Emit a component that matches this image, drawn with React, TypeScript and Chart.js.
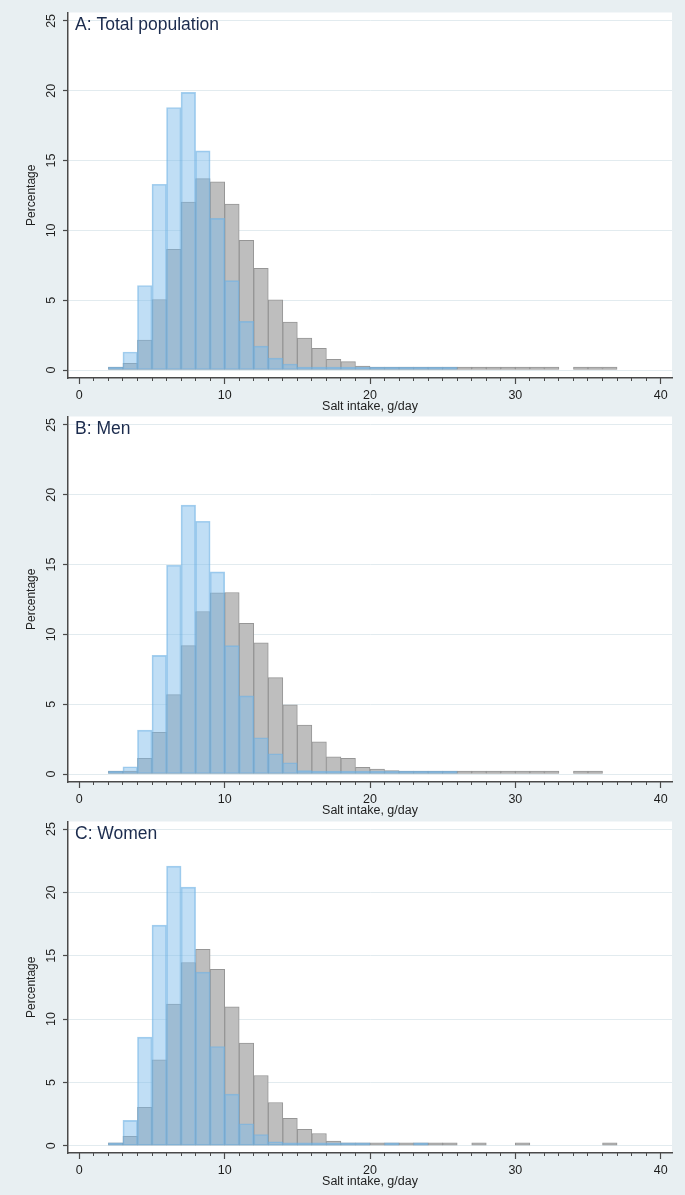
import React, { useEffect, useRef } from 'react';
import { Chart, registerables } from 'chart.js';

Chart.register(...registerables);

// ---------- data ----------
const binLower = [2, 3, 4, 5, 6, 7, 8, 9, 10, 11, 12, 13, 14, 15, 16, 17, 18, 19, 20, 21, 22, 23, 24, 25, 26, 27, 28, 29, 30, 31, 32, 33, 34, 35, 36];

const yTicks = [0, 5, 10, 15, 20, 25];
const xMajorTicks = [0, 10, 20, 30, 40];
const xMinorTicks = [0, 1, 2, 3, 4, 5, 6, 7, 8, 9, 10, 11, 12, 13, 14, 15, 16, 17, 18, 19, 20, 21, 22, 23, 24, 25, 26, 27, 28, 29, 30, 31, 32, 33, 34, 35, 36, 37, 38, 39, 40];

const xTitle = 'Salt intake, g/day';
const yTitle = 'Percentage';
const panelTitles = ['A: Total population', 'B: Men', 'C: Women'];

// bins 2..36 (lower edges)
const totalGray = [0.05, 0.48, 2.14, 5.05, 8.64, 12.02, 13.71, 13.48, 11.88, 9.29, 7.29, 5.02, 3.43, 2.28, 1.56, 0.76, 0.6, 0.29, 0.21, 0.12, 0.09, 0.07, 0.05, 0.04, 0.03, 0.03, 0.02, 0.02, 0.02, 0.02, 0.02, null, 0.02, 0.02, 0.02];
const totalBlue = [0.05, 1.29, 6.05, 13.3, 18.8, 19.88, 15.69, 10.86, 6.4, 3.48, 1.71, 0.85, 0.43, 0.15, 0.1, 0.08, 0.06, 0.05, 0.04, 0.04, 0.03, 0.03, 0.02, 0.02, null, null, null, null, null, null, null, null, null, null, null];

const menGray = [0.05, 0.12, 1.12, 2.98, 5.69, 9.19, 11.64, 12.98, 13.0, 10.79, 9.4, 6.9, 4.95, 3.5, 2.31, 1.24, 1.12, 0.48, 0.36, 0.24, 0.14, 0.1, 0.08, 0.06, 0.05, 0.04, 0.04, 0.03, 0.03, 0.03, 0.03, null, 0.03, 0.03, null];
const menBlue = [0.07, 0.52, 3.14, 8.5, 14.95, 19.26, 18.1, 14.48, 9.19, 5.6, 2.6, 1.45, 0.81, 0.24, 0.15, 0.1, 0.08, 0.06, 0.05, 0.04, 0.04, 0.03, 0.03, 0.02, null, null, null, null, null, null, null, null, null, null, null];

const womenGray = [0.05, 0.74, 3.03, 6.79, 11.18, 14.47, 15.5, 13.92, 10.97, 8.1, 5.55, 3.42, 2.16, 1.29, 0.97, 0.37, 0.18, 0.1, 0.07, 0.05, 0.04, 0.04, 0.03, 0.03, null, 0.03, null, null, 0.03, null, null, null, null, null, 0.03];
const womenBlue = [0.05, 2.0, 8.58, 17.42, 22.08, 20.42, 13.71, 7.84, 4.08, 1.74, 0.89, 0.32, 0.1, 0.08, 0.07, 0.06, 0.05, 0.04, null, 0.03, null, 0.03, null, null, null, null, null, null, null, null, null, null, null, null, null];

// ---------- styling ----------
const FONT = "'Liberation Sans', Arial, sans-serif";
const AXIS = '#4a4a4a';
const TEXT = '#1e1e1e';

const plotBg = {
  id: 'plotBg',
  beforeDraw(chart: any) {
    const { ctx, chartArea: a } = chart;
    ctx.save();
    ctx.fillStyle = '#ffffff';
    ctx.fillRect(a.left, a.top, a.right - a.left, a.bottom - a.top);
    ctx.restore();
  },
};

const panelTitle = {
  id: 'panelTitle',
  afterDatasetsDraw(chart: any, _args: any, opts: any) {
    const { ctx, chartArea: a } = chart;
    ctx.save();
    ctx.font = `17.5px ${FONT}`;
    ctx.fillStyle = '#1b2b4d';
    ctx.textAlign = 'left';
    ctx.textBaseline = 'alphabetic';
    ctx.fillText(opts.text, a.left + 7, a.top + 17.5);
    ctx.restore();
  },
};

function toPoints(arr: (number | null)[]) {
  const pts: { x: number; y: number }[] = [];
  binLower.forEach((b, i) => {
    const v = arr[i];
    if (v !== null && v !== undefined) pts.push({ x: b + 0.5, y: v });
  });
  return pts;
}

type PanelProps = {
  title: string;
  blue: (number | null)[];
  gray: (number | null)[];
  top: number;
  plotHeight: number;
};

const TOP_PAD = 12;
const X_AXIS_H = 42;

function Panel({ title, blue, gray, top, plotHeight }: PanelProps) {
  const ref = useRef<HTMLCanvasElement>(null);
  const height = TOP_PAD + plotHeight + X_AXIS_H;

  useEffect(() => {
    if (!ref.current) return;
    const chart = new Chart(ref.current, {
      type: 'bar',
      data: {
        datasets: [
          {
            label: 'blue',
            data: toPoints(blue),
            xAxisID: 'x',
            yAxisID: 'y',
            order: 0,
            grouped: false,
            barPercentage: 1,
            categoryPercentage: 1,
            backgroundColor: 'rgba(123,186,234,0.48)',
            borderColor: 'rgba(110,178,228,0.62)',
            borderWidth: 1,
            borderSkipped: false,
            minBarLength: 3,
          } as any,
          {
            label: 'gray',
            data: toPoints(gray),
            xAxisID: 'x',
            yAxisID: 'y',
            order: 1,
            grouped: false,
            barPercentage: 1,
            categoryPercentage: 1,
            backgroundColor: '#bebebe',
            borderColor: '#969696',
            borderWidth: 1,
            borderSkipped: false,
            minBarLength: 3,
          } as any,
        ],
      },
      options: {
        responsive: false,
        animation: false,
        layout: { padding: { top: TOP_PAD, right: 13, left: 0, bottom: 0 } },
        plugins: {
          legend: { display: false },
          tooltip: { enabled: false },
          panelTitle: { text: title },
        } as any,
        scales: {
          x: {
            type: 'linear',
            position: 'bottom',
            weight: 1,
            offset: false,
            min: -0.78,
            max: 40.78,
            afterBuildTicks: (s: any) => {
              s.ticks = xMajorTicks.map((v) => ({ value: v }));
            },
            afterFit: (s: any) => {
              s.height = X_AXIS_H;
            },
            grid: { offset: false, drawOnChartArea: false, drawTicks: true, tickLength: 6, tickColor: AXIS, tickWidth: 1.2 },
            border: { display: true, color: AXIS, width: 1.5 },
            ticks: { autoSkip: false, maxRotation: 0, minRotation: 0, padding: 4, color: TEXT, font: { family: FONT, size: 12.5 } },
            title: { display: true, text: xTitle, color: TEXT, font: { family: FONT, size: 12.5 }, padding: { top: 0, bottom: 5.5 } },
          },
          xMinor: {
            type: 'linear',
            position: 'bottom',
            weight: 0,
            offset: false,
            min: -0.78,
            max: 40.78,
            afterBuildTicks: (s: any) => {
              s.ticks = xMinorTicks.map((v) => ({ value: v }));
            },
            afterFit: (s: any) => {
              s.height = 0;
            },
            grid: { offset: false, drawOnChartArea: false, drawTicks: true, tickLength: 3, tickColor: AXIS, tickWidth: 1 },
            border: { display: false },
            ticks: { display: false },
          },
          y: {
            type: 'linear',
            position: 'left',
            min: -0.57,
            max: 25.6,
            afterBuildTicks: (s: any) => {
              s.ticks = yTicks.map((v) => ({ value: v }));
            },
            afterFit: (s: any) => {
              s.width = 68;
            },
            grid: { color: '#e2ebef', lineWidth: 1, drawTicks: true, tickLength: 5, tickColor: AXIS, tickWidth: 1.2 },
            border: { display: true, color: AXIS, width: 1.5 },
            ticks: { minRotation: 90, maxRotation: 90, crossAlign: 'center', padding: 5, color: TEXT, font: { family: FONT, size: 12.5 } },
            title: { display: true, text: yTitle, color: TEXT, font: { family: FONT, size: 12 }, padding: { top: 24, bottom: 0 } },
          },
        } as any,
      },
      plugins: [plotBg, panelTitle],
    });
    return () => chart.destroy();
  }, [title, blue, gray, plotHeight]);

  return (
    <canvas
      ref={ref}
      width={685}
      height={height}
      style={{ position: 'absolute', left: 0, top, width: 685, height }}
    />
  );
}

export default function App() {
  return (
    <div
      style={{
        position: 'absolute',
        left: 0,
        top: 0,
        width: 685,
        height: 1195,
        background: '#e8eff2',
        overflow: 'hidden',
      }}
    >
      <Panel title={panelTitles[0]} blue={totalBlue} gray={totalGray} top={0} plotHeight={366} />
      <Panel title={panelTitles[1]} blue={menBlue} gray={menGray} top={404} plotHeight={366} />
      <Panel title={panelTitles[2]} blue={womenBlue} gray={womenGray} top={809} plotHeight={332} />
    </div>
  );
}
